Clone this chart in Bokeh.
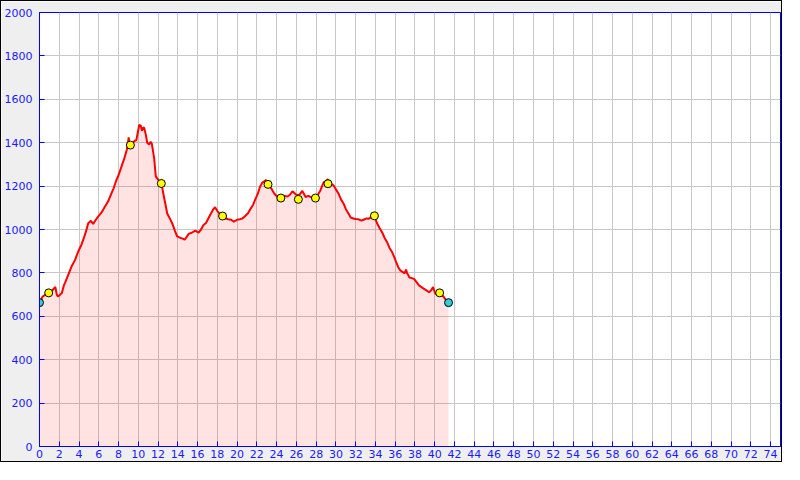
from bokeh.plotting import figure
from bokeh.models import Range1d, SingleIntervalTicker
from bokeh.embed import file_html
from bokeh.resources import INLINE

distance_km = [
    0.0, 0.3, 0.6, 0.93, 1.2, 1.4, 1.6, 1.75, 1.87, 2.05,
    2.27, 2.45, 2.6, 2.9, 3.27, 3.6, 3.93, 4.2, 4.43, 4.7,
    4.93, 5.2, 5.43, 5.7, 5.93, 6.3, 6.6, 6.95, 7.27, 7.5,
    7.77, 8.0, 8.27, 8.6, 8.85, 9.03, 9.1, 9.2, 9.4, 9.6,
    9.8, 10.1, 10.25, 10.37, 10.5, 10.6, 10.77, 10.9, 11.1, 11.25,
    11.37, 11.6, 11.77, 12.0, 12.33, 12.6, 12.93, 13.2, 13.43, 13.7,
    13.93, 14.27, 14.5, 14.7, 15.1, 15.4, 15.77, 16.1, 16.35, 16.6,
    16.85, 17.27, 17.55, 17.77, 18.0, 18.3, 18.53, 18.8, 19.1, 19.4,
    19.67, 20.0, 20.27, 20.5, 20.77, 21.1, 21.35, 21.6, 21.85, 22.1,
    22.3, 22.53, 22.75, 22.93, 23.13, 23.45, 23.77, 24.1, 24.43, 24.75,
    25.1, 25.35, 25.6, 25.93, 26.2, 26.4, 26.6, 26.93, 27.2, 27.43,
    27.7, 27.93, 28.2, 28.43, 28.6, 28.77, 29.0, 29.17, 29.4, 29.77,
    30.0, 30.27, 30.5, 30.77, 31.0, 31.27, 31.5, 31.77, 32.0, 32.27,
    32.6, 32.85, 33.1, 33.35, 33.6, 33.9, 34.15, 34.43, 34.7, 34.93,
    35.2, 35.43, 35.7, 35.93, 36.1, 36.33, 36.55, 36.77, 36.95, 37.1,
    37.2, 37.3, 37.43, 37.7, 37.93, 38.2, 38.43, 38.7, 38.93, 39.2,
    39.43, 39.65, 39.83, 40.0, 40.1, 40.3, 40.5, 40.7, 40.93, 41.15,
    41.4,
]
elevation_m = [
    663, 690, 700, 708, 712, 725, 735, 700, 692, 698,
    708, 740, 756, 790, 832, 860, 900, 925, 953, 990,
    1029, 1040, 1026, 1045, 1059, 1080, 1104, 1130, 1165, 1190,
    1226, 1250, 1286, 1330, 1370, 1425, 1395, 1392, 1395, 1408,
    1412, 1483, 1478, 1455, 1470, 1468, 1435, 1400, 1392, 1405,
    1395, 1330, 1245, 1230, 1215, 1150, 1074, 1050, 1029, 995,
    968, 961, 958, 953, 980, 985, 995, 986, 1000, 1021,
    1030, 1067, 1090, 1103, 1085, 1070, 1062, 1052, 1047, 1045,
    1036, 1045, 1047, 1050, 1060, 1075, 1095, 1112, 1140, 1165,
    1195, 1215, 1222, 1228, 1210, 1190, 1165, 1150, 1145, 1155,
    1152, 1160, 1176, 1162, 1158, 1165, 1178, 1150, 1155, 1150,
    1148, 1145, 1162, 1180, 1200, 1218, 1222, 1232, 1215, 1203,
    1185, 1165, 1140, 1120, 1095, 1074, 1055, 1051, 1048, 1047,
    1041, 1046, 1051, 1050, 1059, 1063, 1030, 1006, 985, 961,
    940, 915, 895, 870, 850, 824, 810, 804, 798, 815,
    800, 792, 779, 776, 771, 755, 741, 733, 726, 718,
    711, 720, 735, 712, 703, 705, 708, 700, 688, 675,
    663,
]

waypoint_km = [0.93, 9.2, 12.33, 18.53, 23.13, 24.43, 26.2, 27.93, 29.2, 33.9, 40.5]
waypoint_m = [708, 1389, 1212, 1062, 1208, 1145, 1139, 1145, 1211, 1063, 708]

endpoint_km = [0.0, 41.4]
endpoint_m = [663, 663]

x_ticks_interval = 2
y_ticks_interval = 200

p = figure(
    width=782, height=462,
    x_range=Range1d(0, 75), y_range=Range1d(0, 2000),
    output_backend="svg", toolbar_location=None,
    min_border_left=37, min_border_right=3, min_border_top=11, min_border_bottom=17,
    background_fill_color="white", border_fill_color="#efefef",
)
p.styles = {"border": "1px solid black"}
p.outline_line_color = "#0000ff"
p.outline_line_width = 1

p.varea(x=distance_km, y1=0, y2=elevation_m, fill_color="#ff0000", fill_alpha=0.11)
p.line(distance_km, elevation_m, line_color="#ff0000", line_width=2)
p.scatter(waypoint_km, waypoint_m, size=8, fill_color="#ffff00", line_color="black", line_width=1)
p.scatter(endpoint_km, endpoint_m, size=8, fill_color="#33ccdd", line_color="black", line_width=1)

p.xaxis.ticker = SingleIntervalTicker(interval=x_ticks_interval, num_minor_ticks=0)
p.yaxis.ticker = SingleIntervalTicker(interval=y_ticks_interval, num_minor_ticks=0)

for ax in (p.xaxis, p.yaxis):
    ax.axis_line_color = "#0000ff"
    ax.major_tick_line_color = "#0000ff"
    ax.major_tick_in = 5
    ax.major_tick_out = 0
    ax.minor_tick_line_color = None
    ax.major_label_text_color = "#1a1aff"
    ax.major_label_text_font = "DejaVu Sans"
    ax.major_label_text_font_size = "11px"
    ax.major_label_standoff = 3

p.yaxis.major_label_standoff = 7

p.xgrid.grid_line_color = "#c8c8c8"
p.ygrid.grid_line_color = "#c8c8c8"

open("out.html", "w").write(file_html(p, INLINE))
